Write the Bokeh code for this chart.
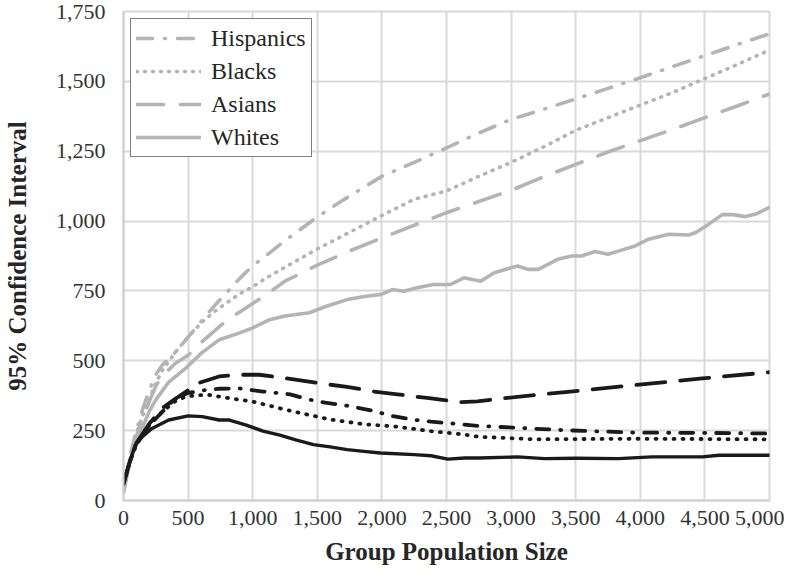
from bokeh.plotting import figure
from bokeh.models import Range1d, FixedTicker, NumeralTickFormatter
from bokeh.embed import file_html
from bokeh.resources import INLINE

# ---- data -------------------------------------------------------------
x_ticks = [0, 500, 1000, 1500, 2000, 2500, 3000, 3500, 4000, 4500, 5000]
y_ticks = [0, 250, 500, 750, 1000, 1250, 1500, 1750]

grid_x = [0, 50, 100, 150, 200, 250, 300, 400, 500, 600, 700, 800, 900, 1000, 1100,
          1250, 1500, 1750, 2000, 2250, 2500, 2750, 3000, 3250, 3500, 3750, 4000,
          4250, 4500, 4750, 5000]

# upper (gray) series
hisp_gray_y = [30, 160, 250, 330, 395, 450, 485, 530, 585, 640, 695, 745, 795, 840, 875,
               930, 1015, 1090, 1160, 1210, 1262, 1315, 1364, 1400, 1437, 1475, 1513,
               1553, 1592, 1632, 1670]
blacks_gray_y = [30, 155, 240, 305, 365, 420, 465, 530, 585, 635, 675, 708, 740, 765, 795,
                 835, 900, 960, 1020, 1078, 1108, 1160, 1210, 1265, 1325, 1370, 1415,
                 1460, 1510, 1560, 1612]
asians_gray_y = [30, 150, 230, 295, 355, 410, 445, 490, 520, 565, 605, 645, 675, 705, 735,
                 785, 842, 893, 940, 985, 1030, 1070, 1110, 1158, 1203, 1247, 1288,
                 1328, 1370, 1412, 1455]
whites_gray_x = [0, 50, 100, 150, 200, 250, 350, 480, 610, 740, 900, 1000, 1130, 1250,
                 1440, 1570, 1730, 1880, 1990, 2080, 2170, 2270, 2400, 2530, 2635, 2765,
                 2870, 3000, 3050, 3130, 3210, 3360, 3470, 3545, 3650, 3750, 3855, 3960,
                 4065, 4220, 4375, 4430, 4530, 4635, 4715, 4815, 4895, 5000]
whites_gray_y = [30, 140, 205, 265, 320, 360, 424, 473, 530, 575, 600, 618, 647, 660,
                 672, 695, 719, 731, 737, 755, 749, 761, 773, 773, 797, 785,
                 815, 833, 839, 827, 827, 863, 875, 875, 891, 881, 896, 911,
                 935, 953, 950, 959, 989, 1023, 1023, 1016, 1025, 1049]

# lower (black) series
hisp_black_x = [0, 50, 100, 200, 290, 400, 500, 640, 740, 900, 1080, 1290, 1420, 1560,
                1750, 1940, 2070, 2230, 2380, 2610, 2740, 2920, 3440, 3960, 4500, 5000]
hisp_black_y = [60, 140, 205, 270, 312, 366, 385, 396, 400, 401, 390, 380, 363, 350,
                338, 320, 303, 290, 282, 273, 267, 263, 251, 243, 242, 240]
blacks_black_x = [0, 50, 100, 200, 300, 400, 480, 580, 660, 820, 1000, 1210, 1340, 1600,
                  1860, 2120, 2380, 2640, 2750, 3180, 3500, 3960, 4500, 5000]
blacks_black_y = [60, 140, 200, 270, 318, 355, 372, 377, 378, 366, 354, 330, 316, 290,
                  273, 264, 248, 236, 228, 219, 220, 221, 220, 219]
asians_black_x = [0, 50, 100, 200, 300, 390, 500, 580, 740, 900, 1050, 1260, 1570, 1730,
                  1940, 2120, 2350, 2600, 2740, 2920, 3440, 3960, 4480, 5000]
asians_black_y = [60, 140, 205, 275, 330, 360, 395, 420, 444, 450, 450, 437, 416, 407,
                  390, 380, 367, 352, 355, 365, 389, 413, 437, 459]
whites_black_x = [0, 50, 90, 150, 220, 350, 500, 610, 740, 820, 950, 1080, 1210, 1340,
                  1470, 1600, 1730, 1860, 1990, 2250, 2380, 2510, 2640, 2750, 3050, 3260,
                  3500, 3830, 4090, 4480, 4610, 5000]
whites_black_y = [70, 140, 197, 230, 258, 288, 303, 300, 288, 288, 270, 248, 234, 216,
                  200, 192, 182, 176, 170, 164, 160, 148, 152, 152, 156, 150,
                  151, 150, 156, 156, 162, 162]

# ---- figure -----------------------------------------------------------
SERIF = "Liberation Serif"
GRAY = "#b4b4b6"
BLACK = "#1a1a1a"
GRID = "#d9d9d9"

p = figure(width=784, height=567, output_backend="svg", toolbar_location=None,
           x_range=Range1d(0, 5000), y_range=Range1d(0, 1750),
           min_border_left=123, min_border_right=15, min_border_top=11,
           min_border_bottom=62)

p.background_fill_color = "white"
p.border_fill_color = "white"
p.outline_line_color = GRID
p.outline_line_width = 2

p.xaxis.ticker = FixedTicker(ticks=x_ticks)
p.yaxis.ticker = FixedTicker(ticks=y_ticks)
p.xaxis.formatter = NumeralTickFormatter(format="0,0")
p.yaxis.formatter = NumeralTickFormatter(format="0,0")

for ax in (p.xaxis, p.yaxis):
    ax.major_tick_line_color = None
    ax.minor_tick_line_color = None
    ax.axis_line_color = "#cfcfcf"
    ax.axis_line_width = 2
    ax.major_label_text_font = SERIF
    ax.major_label_text_font_size = "22px"
    ax.major_label_text_color = "#333333"
    ax.axis_label_text_font = SERIF
    ax.axis_label_text_font_size = "25px"
    ax.axis_label_text_font_style = "bold"
    ax.axis_label_text_color = "#262626"

p.xaxis.axis_label = "Group Population Size"
p.yaxis.axis_label = "95% Confidence Interval"
p.xaxis.major_label_standoff = 4
p.yaxis.major_label_standoff = 12
p.xaxis.axis_label_standoff = 10
p.yaxis.axis_label_standoff = 22

p.xgrid.grid_line_color = GRID
p.ygrid.grid_line_color = GRID
p.xgrid.grid_line_width = 2
p.ygrid.grid_line_width = 2

W = 3.6
# gray (upper) lines with legend
p.line(grid_x, hisp_gray_y, color=GRAY, line_width=W, line_dash="16 12 1 12",
       line_cap="round", legend_label="Hispanics")
p.line(grid_x, blacks_gray_y, color=GRAY, line_width=W, line_dash="1 7",
       line_cap="round", legend_label="Blacks")
p.line(grid_x, asians_gray_y, color=GRAY, line_width=W, line_dash="27 17",
       line_cap="round", legend_label="Asians")
p.line(whites_gray_x, whites_gray_y, color=GRAY, line_width=W, line_cap="round",
       line_join="round", legend_label="Whites")

# black (lower) lines
p.line(hisp_black_x, hisp_black_y, color=BLACK, line_width=3.8, line_dash="13 11 1 11",
       line_cap="round")
p.line(blacks_black_x, blacks_black_y, color=BLACK, line_width=3.8, line_dash="1 8",
       line_cap="round")
p.line(asians_black_x, asians_black_y, color=BLACK, line_width=3.8, line_dash="29 15",
       line_cap="round")
p.line(whites_black_x, whites_black_y, color=BLACK, line_width=3.4, line_cap="round",
       line_join="round")

lg = p.legend[0]
lg.location = "top_left"
lg.margin = 7
lg.padding = 5
lg.spacing = 5
lg.glyph_width = 65
lg.glyph_height = 28
lg.label_height = 28
lg.label_standoff = 10
lg.label_text_font = SERIF
lg.label_text_font_size = "24px"
lg.label_text_color = "#262626"
lg.border_line_color = "black"
lg.border_line_width = 1.5
lg.background_fill_color = "white"
lg.background_fill_alpha = 1.0

open("out.html", "w").write(file_html(p, INLINE))
